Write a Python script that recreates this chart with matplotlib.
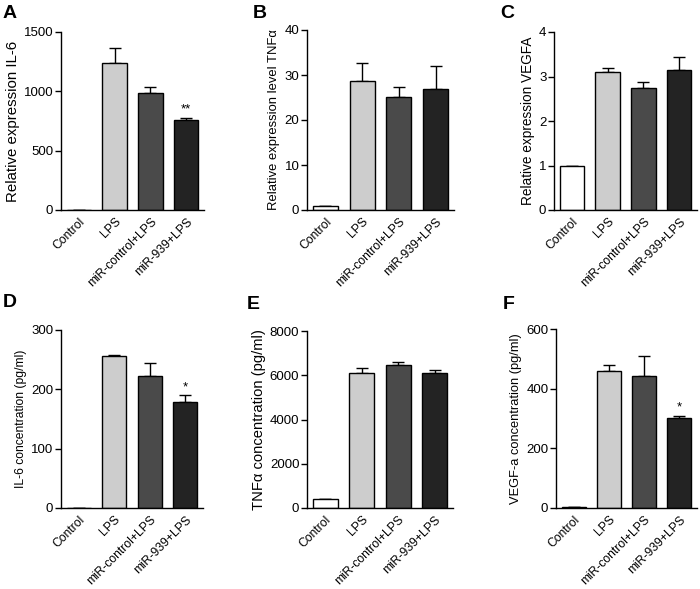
import numpy as np
import matplotlib
matplotlib.use("Agg")
import matplotlib.pyplot as plt

plt.rcParams['font.family'] = ['Liberation Sans', 'DejaVu Sans']

# ---- data ----
groups = ["Control", "LPS", "miR-control+LPS", "miR-939+LPS"]
colors = ["white", "#cdcdcd", "#4a4a4a", "#232323"]

il6_rel = [0, 1240, 989, 758]
il6_rel_err = [0, 122, 50, 20]

tnf_rel = [0.96, 28.7, 25.2, 26.8]
tnf_rel_err = [0, 3.9, 2.1, 5.1]

vegf_rel = [1.0, 3.09, 2.74, 3.14]
vegf_rel_err = [0, 0.11, 0.13, 0.30]

il6_conc = [0, 255.7, 222.6, 179.4]
il6_conc_err = [0, 2.8, 22.4, 11.3]

tnf_conc = [389, 6097, 6457, 6082]
tnf_conc_err = [0, 210, 150, 165]

vegf_conc = [3, 460, 443, 301]
vegf_conc_err = [0, 20, 65, 9]

panels = [
    ("A", il6_rel, il6_rel_err, "Relative expression IL-6", 1500, 500, ["", "", "", "**"], 10.8),
    ("B", tnf_rel, tnf_rel_err, "Relative expression level TNFα", 40, 10, ["", "", "", ""], 9.4),
    ("C", vegf_rel, vegf_rel_err, "Relative expression VEGFA", 4, 1, ["", "", "", ""], 9.8),
    ("D", il6_conc, il6_conc_err, "IL-6 concentration (pg/ml)", 300, 100, ["", "", "", "*"], 8.7),
    ("E", tnf_conc, tnf_conc_err, "TNFα concentration (pg/ml)", 8000, 2000, ["", "", "", ""], 10.6),
    ("F", vegf_conc, vegf_conc_err, "VEGF-a concentration (pg/ml)", 600, 200, ["", "", "", "*"], 9.3),
]

# axes boxes in pixels: left, right, top, bottom
boxes = [
    (61, 204, 32, 210), (307, 454, 30, 210), (554, 697, 32, 210),
    (61, 203, 330, 508), (307, 453, 331, 508), (556, 697, 329, 508),
]
letter_pos = [(3, 5), (253, 5), (500, 5), (3, 294), (247, 296), (503, 296)]

W, H = 700, 589
fig = plt.figure(figsize=(7.0, 5.89), dpi=100)

for (letter, vals, errs, ylab, ymax, step, stars, ysize), (l, r, t, b), (lx, ly) in zip(panels, boxes, letter_pos):
    ax = fig.add_axes([l / W, 1 - b / H, (r - l) / W, (b - t) / H])
    x = np.arange(len(groups))
    ax.bar(x, vals, width=0.68, color=colors, edgecolor="black", linewidth=1.0, zorder=2)
    ax.errorbar(x, vals, yerr=[np.zeros(len(vals)), errs], fmt="none",
                ecolor="black", elinewidth=1.0, capsize=4.5, capthick=1.0, zorder=1)
    for xi, v, e, s in zip(x, vals, errs, stars):
        if s:
            ax.text(xi, v + e + ymax * 0.01, s, ha="center", va="bottom", fontsize=9.5)
    ax.set_xlim(-0.5, 3.5)
    ax.set_ylim(0, ymax)
    ax.set_yticks(np.arange(0, ymax + step / 2, step))
    ax.set_xticks(x)
    ax.set_xticklabels(groups, rotation=45, ha="right", rotation_mode="anchor", fontsize=8.7)
    ax.tick_params(axis="y", labelsize=9.5, direction="out", length=4, width=1, pad=1.5)
    ax.tick_params(axis="x", length=0, pad=4)
    ax.spines["top"].set_visible(False)
    ax.spines["right"].set_visible(False)
    ax.spines["left"].set_linewidth(1.0)
    ax.spines["bottom"].set_linewidth(1.0)
    ax.set_ylabel(ylab, fontsize=ysize, labelpad=3)
    fig.text(lx / W, 1 - ly / H, letter, fontsize=14, fontweight="bold", va="top", ha="left")

fig.savefig("out.png", dpi=100, facecolor="white")
